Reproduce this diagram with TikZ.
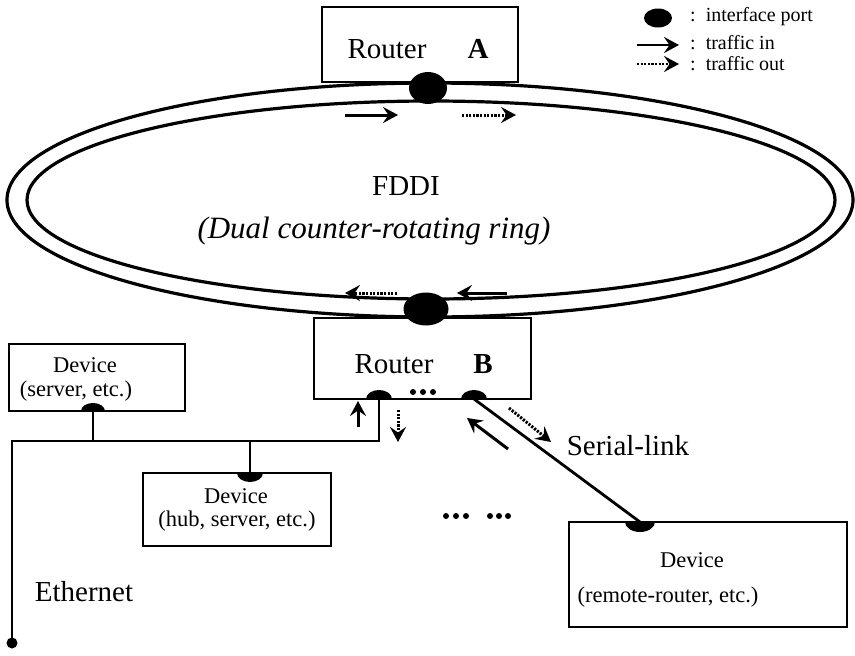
\documentclass[tikz,border=0pt]{standalone}
\usepackage{fontspec}
\setmainfont{Liberation Serif}
\usetikzlibrary{arrows.meta,shapes.geometric}
\tikzset{
  boxn/.style={draw, line width=2.6pt, inner sep=0pt},
  ring/.style={line width=3.2pt},
  wire/.style={line width=2.8pt},
  portn/.style={ellipse, fill=black, inner sep=0pt},
  inarrow/.style={line width=3pt, -{Stealth[length=15pt,width=16pt,inset=5.5pt]}},
  outarrow/.style={inarrow, dash pattern=on 2.2pt off 1.4pt},
  big/.style={font=\fontsize{29}{31}\selectfont, inner sep=0pt},
  mid/.style={font=\fontsize{22.5}{24}\selectfont, inner sep=0pt},
  sml/.style={font=\fontsize{20}{22}\selectfont, inner sep=0pt},
  dotc/.style={fill=black}
}
\begin{document}
\begin{tikzpicture}[x=1pt,y=-1pt]
\useasboundingbox (0,0) rectangle (855,656);
\fill[white] (0,0) rectangle (855,656);

% FDDI ring
\draw[ring] (430,200) ellipse [x radius=423pt, y radius=117pt];
\draw[ring] (431,200) ellipse [x radius=404pt, y radius=99pt];
\node[big] (fddi) at (406,186) {FDDI};
\node[big, font=\fontsize{31}{33}\selectfont] (dual) at (374,231) {\itshape (Dual counter-rotating ring)};

% Router A
\node[boxn, minimum width=196pt, minimum height=75pt, fill=white] (ra) at (420,44.5) {};
\node[big] (ratxt) at (387,49) {Router};
\node[big] (ralab) at (478,49) {\bfseries A};
\node[portn, minimum width=38pt, minimum height=32pt] (pa) at (428,88) {};
\coordinate (a1s) at (345,115); \coordinate (a1e) at (398,115);
\coordinate (a2s) at (462,115); \coordinate (a2e) at (516,115);
\draw[inarrow] (a1s) -- (a1e);
\draw[outarrow] (a2s) -- (a2e);

% Router B
\node[boxn, minimum width=217pt, minimum height=81pt, fill=white] (rb) at (422.5,358.5) {};
\node[portn, minimum width=45pt, minimum height=33pt] (pb) at (426,309) {};
\node[big] (rbtxt) at (394,364) {Router};
\node[big] (rblab) at (483,364) {\bfseries B};
\coordinate (b1s) at (397,293); \coordinate (b1e) at (345,293);
\coordinate (b2s) at (507,293); \coordinate (b2e) at (457,293);
\draw[outarrow] (b1s) -- (b1e);
\draw[inarrow] (b2s) -- (b2e);
\coordinate (pbl) at (379,399);
\coordinate (pbr) at (474,399);
\fill (pbl) ++(-13pt,0) arc[start angle=180,end angle=0,x radius=13pt,y radius=9pt] -- cycle;
\fill (pbr) ++(-13pt,0) arc[start angle=180,end angle=0,x radius=13pt,y radius=9pt] -- cycle;
\foreach \xx in {413,423,433} \fill[dotc] (\xx,392) circle[radius=3pt];

% Ethernet
\coordinate (e1) at (12,441);
\coordinate (eend) at (12,643);
\draw[wire] (pbl) |- (e1) -- (eend);
\fill (eend) circle[radius=5.5pt];
\node[big] (eth) at (84,592) {Ethernet};
\coordinate (u1s) at (358,427); \coordinate (u1e) at (358,401);
\draw[inarrow] (u1s) -- (u1e);
\coordinate (d1s) at (398,410); \coordinate (d1e) at (398,442);
\draw[outarrow] (d1s) -- (d1e);

% Device server
\node[boxn, minimum width=176pt, minimum height=67pt] (dsrv) at (97,377.5) {};
\node[mid] (dsrv1) at (85,365) {Device};
\node[mid] (dsrv2) at (76,391) {(server, etc.)};
\coordinate (ps) at (93,411);
\fill (ps) ++(-12pt,0) arc[start angle=180,end angle=0,x radius=12pt,y radius=8pt] -- cycle;
\draw[wire] (ps) -- (ps |- e1);

% Device hub
\node[boxn, minimum width=188pt, minimum height=73pt] (dhub) at (237,509.5) {};
\node[mid] (dhub1) at (236,496) {Device};
\node[mid] (dhub2) at (237,521) {(hub, server, etc.)};
\coordinate (ph) at (250,473);
\fill (ph) ++(-13pt,0) arc[start angle=180,end angle=360,x radius=13pt,y radius=9pt] -- cycle;
\draw[wire] (ph) -- (ph |- e1);

% dots
\foreach \xx in {446,456,466,490,499,508} \fill[dotc] (\xx,516) circle[radius=3pt];

% Serial link
\node[boxn, minimum width=278pt, minimum height=105pt] (drem) at (708,574.5) {};
\node[mid] (drem1) at (692,560) {Device};
\node[mid] (drem2) at (668,597) {(remote-router, etc.)};
\coordinate (pr) at (640,522);
\fill (pr) ++(-15pt,0) arc[start angle=180,end angle=360,x radius=15pt,y radius=10pt] -- cycle;
\draw[wire] (pbr) -- (pr);
\node[big] (ser) at (628,446) {Serial-link};
\coordinate (s1s) at (509,408); \coordinate (s1e) at (551,442);
\draw[outarrow] (s1s) -- (s1e);
\coordinate (s2s) at (508,449); \coordinate (s2e) at (467,418);
\draw[inarrow] (s2s) -- (s2e);

% Legend
\node[portn, minimum width=28pt, minimum height=19pt] (lport) at (658,18) {};
\node[sml, anchor=west] (lt1) at (690,17) {:\ \ interface port};
\coordinate (l2s) at (637,45); \coordinate (l2e) at (679,45);
\draw[inarrow, line width=2.6pt] (l2s) -- (l2e);
\node[sml, anchor=west] (lt2) at (690,43) {:\ \ traffic in};
\coordinate (l3s) at (637,64); \coordinate (l3e) at (679,64);
\draw[outarrow, line width=2.6pt] (l3s) -- (l3e);
\node[sml, anchor=west] (lt3) at (690,64) {:\ \ traffic out};
\end{tikzpicture}
\end{document}
